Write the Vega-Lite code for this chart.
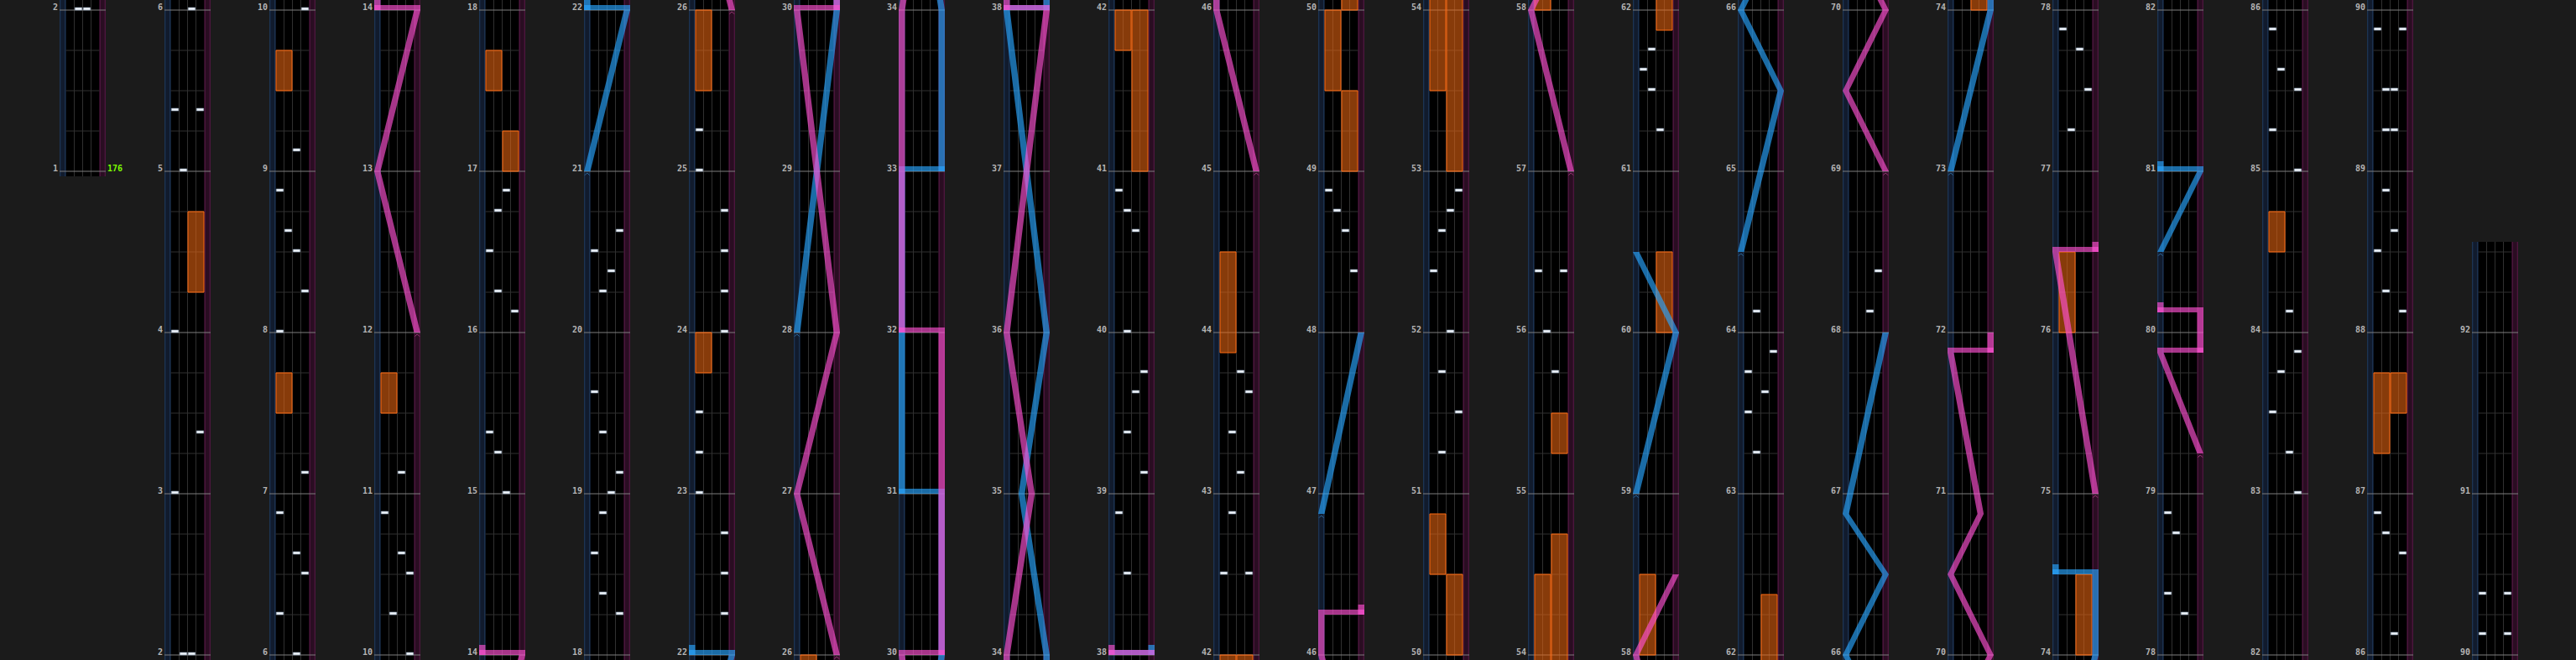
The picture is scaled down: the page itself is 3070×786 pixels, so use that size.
{
"$schema": "https://vega.github.io/schema/vega-lite/v6.json",
"background": "#1b1b1b",
"padding": {"left": 62, "right": 70, "top": 0, "bottom": 0},
"spacing": 70,
"bounds": "flush",
"data": {"values": [
{"k":"bg","y0":-0.03125,"y1":4.0625,"c":[2,3,4,5,6,7,8,9,10,11,12,13,14,15,16,17,18,19,20,21,22,23]},
{"k":"bg","y0":2.96875,"y1":4.0625,"c":[1]},
{"k":"bg","y0":-0.03125,"y1":2.5625,"c":[24]},
{"k":"b","y":0.25,"c":[2,3,4,5,6,7,8,9,10,11,12,13,14,15,16,17,18,19,20,21,22,23,24]},
{"k":"b","y":0.5,"c":[2,3,4,5,6,7,8,9,10,11,12,13,14,15,16,17,18,19,20,21,22,23,24]},
{"k":"b","y":0.75,"c":[2,3,4,5,6,7,8,9,10,11,12,13,14,15,16,17,18,19,20,21,22,23,24]},
{"k":"b","y":1.25,"c":[2,3,4,5,6,7,8,9,10,11,12,13,14,15,16,17,18,19,20,21,22,23,24]},
{"k":"b","y":1.5,"c":[2,3,4,5,6,7,8,9,10,11,12,13,14,15,16,17,18,19,20,21,22,23,24]},
{"k":"b","y":1.75,"c":[2,3,4,5,6,7,8,9,10,11,12,13,14,15,16,17,18,19,20,21,22,23,24]},
{"k":"b","y":2.25,"c":[2,3,4,5,6,7,8,9,10,11,12,13,14,15,16,17,18,19,20,21,22,23,24]},
{"k":"b","y":2.5,"c":[2,3,4,5,6,7,8,9,10,11,12,13,14,15,16,17,18,19,20,21,22,23,24]},
{"k":"b","y":2.75,"c":[2,3,4,5,6,7,8,9,10,11,12,13,14,15,16,17,18,19,20,21,22,23]},
{"k":"b","y":3.25,"c":[1,2,3,4,5,6,7,8,9,10,11,12,13,14,15,16,17,18,19,20,21,22,23]},
{"k":"b","y":3.5,"c":[1,2,3,4,5,6,7,8,9,10,11,12,13,14,15,16,17,18,19,20,21,22,23]},
{"k":"b","y":3.75,"c":[1,2,3,4,5,6,7,8,9,10,11,12,13,14,15,16,17,18,19,20,21,22,23]},
{"k":"m","t":1,"c":[1]},{"k":"m","t":2,"c":[1,2]},{"k":"m","t":3,"c":[2]},{"k":"m","t":4,"c":[2]},{"k":"m","t":5,"c":[2]},{"k":"m","t":6,"c":[2,3]},
{"k":"m","t":7,"c":[3]},{"k":"m","t":8,"c":[3]},{"k":"m","t":9,"c":[3]},{"k":"m","t":10,"c":[3,4]},
{"k":"m","t":11,"c":[4]},{"k":"m","t":12,"c":[4]},{"k":"m","t":13,"c":[4]},{"k":"m","t":14,"c":[4,5]},
{"k":"m","t":15,"c":[5]},{"k":"m","t":16,"c":[5]},{"k":"m","t":17,"c":[5]},{"k":"m","t":18,"c":[5,6]},
{"k":"m","t":19,"c":[6]},{"k":"m","t":20,"c":[6]},{"k":"m","t":21,"c":[6]},{"k":"m","t":22,"c":[6,7]},
{"k":"m","t":23,"c":[7]},{"k":"m","t":24,"c":[7]},{"k":"m","t":25,"c":[7]},{"k":"m","t":26,"c":[7,8]},
{"k":"m","t":27,"c":[8]},{"k":"m","t":28,"c":[8]},{"k":"m","t":29,"c":[8]},{"k":"m","t":30,"c":[8,9]},
{"k":"m","t":31,"c":[9]},{"k":"m","t":32,"c":[9]},{"k":"m","t":33,"c":[9]},{"k":"m","t":34,"c":[9,10]},
{"k":"m","t":35,"c":[10]},{"k":"m","t":36,"c":[10]},{"k":"m","t":37,"c":[10]},{"k":"m","t":38,"c":[10,11]},
{"k":"m","t":39,"c":[11]},{"k":"m","t":40,"c":[11]},{"k":"m","t":41,"c":[11]},{"k":"m","t":42,"c":[11,12]},
{"k":"m","t":43,"c":[12]},{"k":"m","t":44,"c":[12]},{"k":"m","t":45,"c":[12]},{"k":"m","t":46,"c":[12,13]},
{"k":"m","t":47,"c":[13]},{"k":"m","t":48,"c":[13]},{"k":"m","t":49,"c":[13]},{"k":"m","t":50,"c":[13,14]},
{"k":"m","t":51,"c":[14]},{"k":"m","t":52,"c":[14]},{"k":"m","t":53,"c":[14]},{"k":"m","t":54,"c":[14,15]},
{"k":"m","t":55,"c":[15]},{"k":"m","t":56,"c":[15]},{"k":"m","t":57,"c":[15]},{"k":"m","t":58,"c":[15,16]},
{"k":"m","t":59,"c":[16]},{"k":"m","t":60,"c":[16]},{"k":"m","t":61,"c":[16]},{"k":"m","t":62,"c":[16,17]},
{"k":"m","t":63,"c":[17]},{"k":"m","t":64,"c":[17]},{"k":"m","t":65,"c":[17]},{"k":"m","t":66,"c":[17,18]},
{"k":"m","t":67,"c":[18]},{"k":"m","t":68,"c":[18]},{"k":"m","t":69,"c":[18]},{"k":"m","t":70,"c":[18,19]},
{"k":"m","t":71,"c":[19]},{"k":"m","t":72,"c":[19]},{"k":"m","t":73,"c":[19]},{"k":"m","t":74,"c":[19,20]},
{"k":"m","t":75,"c":[20]},{"k":"m","t":76,"c":[20]},{"k":"m","t":77,"c":[20]},{"k":"m","t":78,"c":[20,21]},
{"k":"m","t":79,"c":[21]},{"k":"m","t":80,"c":[21]},{"k":"m","t":81,"c":[21]},{"k":"m","t":82,"c":[21,22]},
{"k":"m","t":83,"c":[22]},{"k":"m","t":84,"c":[22]},{"k":"m","t":85,"c":[22]},{"k":"m","t":86,"c":[22,23]},
{"k":"m","t":87,"c":[23]},{"k":"m","t":88,"c":[23]},{"k":"m","t":89,"c":[23]},{"k":"m","t":90,"c":[23,24]},
{"k":"m","t":91,"c":[24]},{"k":"m","t":92,"c":[24]},
{"k":"bpm","t":1,"c":[1],"txt":"176"},
{"k":"n","t":2,"l":1,"c":[1,2]},{"k":"n","t":2,"l":2,"c":[1,2]},
{"k":"n","t":3,"l":0,"c":[2]},{"k":"n","t":3.375,"l":3,"c":[2]},{"k":"n","t":4,"l":0,"c":[2]},{"k":"n","t":5,"l":1,"c":[2]},
{"k":"n","t":5.375,"l":0,"c":[2]},{"k":"n","t":5.375,"l":3,"c":[2]},{"k":"n","t":6,"l":2,"c":[2,3]},
{"k":"n","t":6.25,"l":0,"c":[3]},{"k":"n","t":6.5,"l":3,"c":[3]},{"k":"n","t":6.625,"l":2,"c":[3]},{"k":"n","t":6.875,"l":0,"c":[3]},
{"k":"n","t":7.125,"l":3,"c":[3]},{"k":"n","t":8,"l":0,"c":[3]},{"k":"n","t":8.25,"l":3,"c":[3]},{"k":"n","t":8.5,"l":2,"c":[3]},
{"k":"n","t":8.625,"l":1,"c":[3]},{"k":"n","t":8.875,"l":0,"c":[3]},{"k":"n","t":9.125,"l":2,"c":[3]},{"k":"n","t":10,"l":3,"c":[3,4]},
{"k":"n","t":10.25,"l":1,"c":[4]},{"k":"n","t":10.5,"l":3,"c":[4]},{"k":"n","t":10.625,"l":2,"c":[4]},{"k":"n","t":10.875,"l":0,"c":[4]},
{"k":"n","t":11.125,"l":2,"c":[4]},
{"k":"n","t":15,"l":2,"c":[5]},{"k":"n","t":15.25,"l":1,"c":[5]},{"k":"n","t":15.375,"l":0,"c":[5]},{"k":"n","t":16.125,"l":3,"c":[5]},
{"k":"n","t":16.25,"l":1,"c":[5]},{"k":"n","t":16.5,"l":0,"c":[5]},{"k":"n","t":16.75,"l":1,"c":[5]},{"k":"n","t":16.875,"l":2,"c":[5]},
{"k":"n","t":18.25,"l":3,"c":[6]},{"k":"n","t":18.375,"l":1,"c":[6]},{"k":"n","t":18.625,"l":0,"c":[6]},{"k":"n","t":18.875,"l":1,"c":[6]},
{"k":"n","t":19,"l":2,"c":[6]},{"k":"n","t":19.125,"l":3,"c":[6]},{"k":"n","t":19.375,"l":1,"c":[6]},{"k":"n","t":19.625,"l":0,"c":[6]},
{"k":"n","t":20.25,"l":1,"c":[6]},{"k":"n","t":20.375,"l":2,"c":[6]},{"k":"n","t":20.5,"l":0,"c":[6]},{"k":"n","t":20.625,"l":3,"c":[6]},
{"k":"n","t":22.25,"l":3,"c":[7]},{"k":"n","t":22.5,"l":3,"c":[7]},{"k":"n","t":22.75,"l":3,"c":[7]},{"k":"n","t":23,"l":0,"c":[7]},
{"k":"n","t":23.25,"l":0,"c":[7]},{"k":"n","t":23.5,"l":0,"c":[7]},{"k":"n","t":24,"l":3,"c":[7]},{"k":"n","t":24.25,"l":3,"c":[7]},
{"k":"n","t":24.5,"l":3,"c":[7]},{"k":"n","t":24.75,"l":3,"c":[7]},{"k":"n","t":25,"l":0,"c":[7]},{"k":"n","t":25.25,"l":0,"c":[7]},
{"k":"n","t":38.5,"l":1,"c":[11]},{"k":"n","t":38.875,"l":0,"c":[11]},{"k":"n","t":39.125,"l":3,"c":[11]},{"k":"n","t":39.375,"l":1,"c":[11]},
{"k":"n","t":39.625,"l":2,"c":[11]},{"k":"n","t":39.75,"l":3,"c":[11]},{"k":"n","t":40,"l":1,"c":[11]},{"k":"n","t":40.625,"l":2,"c":[11]},
{"k":"n","t":40.75,"l":1,"c":[11]},{"k":"n","t":40.875,"l":0,"c":[11]},
{"k":"n","t":42.5,"l":0,"c":[12]},{"k":"n","t":42.5,"l":3,"c":[12]},{"k":"n","t":42.875,"l":1,"c":[12]},{"k":"n","t":43.125,"l":2,"c":[12]},
{"k":"n","t":43.375,"l":1,"c":[12]},{"k":"n","t":43.625,"l":3,"c":[12]},{"k":"n","t":43.75,"l":2,"c":[12]},
{"k":"n","t":48.375,"l":3,"c":[13]},{"k":"n","t":48.625,"l":2,"c":[13]},{"k":"n","t":48.75,"l":1,"c":[13]},{"k":"n","t":48.875,"l":0,"c":[13]},
{"k":"n","t":51.25,"l":1,"c":[14]},{"k":"n","t":51.5,"l":3,"c":[14]},{"k":"n","t":51.75,"l":1,"c":[14]},{"k":"n","t":52,"l":2,"c":[14]},
{"k":"n","t":52.375,"l":0,"c":[14]},{"k":"n","t":52.625,"l":1,"c":[14]},{"k":"n","t":52.75,"l":2,"c":[14]},{"k":"n","t":52.875,"l":3,"c":[14]},
{"k":"n","t":55.75,"l":2,"c":[15]},{"k":"n","t":56,"l":1,"c":[15]},{"k":"n","t":56.375,"l":0,"c":[15]},{"k":"n","t":56.375,"l":3,"c":[15]},
{"k":"n","t":61.25,"l":2,"c":[16]},{"k":"n","t":61.5,"l":1,"c":[16]},{"k":"n","t":61.625,"l":0,"c":[16]},{"k":"n","t":61.75,"l":1,"c":[16]},
{"k":"n","t":63.25,"l":1,"c":[17]},{"k":"n","t":63.5,"l":0,"c":[17]},{"k":"n","t":63.625,"l":2,"c":[17]},{"k":"n","t":63.75,"l":0,"c":[17]},
{"k":"n","t":63.875,"l":3,"c":[17]},{"k":"n","t":64.125,"l":1,"c":[17]},
{"k":"n","t":68.125,"l":2,"c":[18]},{"k":"n","t":68.375,"l":3,"c":[18]},
{"k":"n","t":77.25,"l":1,"c":[20]},{"k":"n","t":77.5,"l":3,"c":[20]},{"k":"n","t":77.75,"l":2,"c":[20]},{"k":"n","t":77.875,"l":0,"c":[20]},
{"k":"n","t":78.25,"l":2,"c":[21]},{"k":"n","t":78.375,"l":0,"c":[21]},{"k":"n","t":78.75,"l":1,"c":[21]},{"k":"n","t":78.875,"l":0,"c":[21]},
{"k":"n","t":83,"l":3,"c":[22]},{"k":"n","t":83.25,"l":2,"c":[22]},{"k":"n","t":83.5,"l":0,"c":[22]},{"k":"n","t":83.75,"l":1,"c":[22]},
{"k":"n","t":83.875,"l":3,"c":[22]},{"k":"n","t":84.125,"l":2,"c":[22]},{"k":"n","t":85,"l":3,"c":[22]},{"k":"n","t":85.25,"l":0,"c":[22]},
{"k":"n","t":85.5,"l":3,"c":[22]},{"k":"n","t":85.625,"l":1,"c":[22]},{"k":"n","t":85.875,"l":0,"c":[22]},
{"k":"n","t":86.125,"l":2,"c":[23]},{"k":"n","t":86.625,"l":3,"c":[23]},{"k":"n","t":86.75,"l":1,"c":[23]},{"k":"n","t":86.875,"l":0,"c":[23]},
{"k":"n","t":88.125,"l":3,"c":[23]},{"k":"n","t":88.25,"l":1,"c":[23]},{"k":"n","t":88.5,"l":0,"c":[23]},{"k":"n","t":88.625,"l":2,"c":[23]},
{"k":"n","t":88.875,"l":1,"c":[23]},{"k":"n","t":89.25,"l":1,"c":[23]},{"k":"n","t":89.25,"l":2,"c":[23]},{"k":"n","t":89.5,"l":1,"c":[23]},
{"k":"n","t":89.5,"l":2,"c":[23]},{"k":"n","t":89.875,"l":0,"c":[23]},{"k":"n","t":89.875,"l":3,"c":[23]},
{"k":"n","t":90.125,"l":0,"c":[24]},{"k":"n","t":90.125,"l":3,"c":[24]},{"k":"n","t":90.375,"l":0,"c":[24]},{"k":"n","t":90.375,"l":3,"c":[24]},
{"k":"f","t0":4.25,"t1":4.75,"l":2,"c":[2]},{"k":"f","t0":7.5,"t1":7.75,"l":0,"c":[3]},{"k":"f","t0":9.5,"t1":9.75,"l":0,"c":[3]},
{"k":"f","t0":11.5,"t1":11.75,"l":0,"c":[4]},{"k":"f","t0":17,"t1":17.25,"l":2,"c":[5]},{"k":"f","t0":17.5,"t1":17.75,"l":0,"c":[5]},
{"k":"f","t0":23.75,"t1":24,"l":0,"c":[7]},{"k":"f","t0":25.5,"t1":26,"l":0,"c":[7,8]},{"k":"f","t0":41,"t1":42,"l":2,"c":[11,12]},
{"k":"f","t0":41.75,"t1":42,"l":0,"c":[11,12]},{"k":"f","t0":43.875,"t1":44.5,"l":0,"c":[12]},{"k":"f","t0":49,"t1":49.5,"l":2,"c":[13]},
{"k":"f","t0":49.5,"t1":50,"l":0,"c":[13]},{"k":"f","t0":50,"t1":50.5,"l":2,"c":[13,14]},
{"k":"f","t0":50.5,"t1":50.875,"l":0,"c":[14]},{"k":"f","t0":53,"t1":54.75,"l":2,"c":[14,15]},{"k":"f","t0":53.5,"t1":54.5,"l":0,"c":[14,15]},
{"k":"f","t0":55.25,"t1":55.5,"l":2,"c":[15]},{"k":"f","t0":58,"t1":58.5,"l":0,"c":[15,16]},{"k":"f","t0":60,"t1":60.5,"l":2,"c":[16]},
{"k":"f","t0":61.875,"t1":62.375,"l":2,"c":[16,17]},{"k":"f","t0":74,"t1":74.5,"l":2,"c":[19,20]},{"k":"f","t0":76,"t1":76.5,"l":0,"c":[20]},
{"k":"f","t0":84.5,"t1":84.75,"l":0,"c":[22]},{"k":"f","t0":87.25,"t1":87.75,"l":0,"c":[23]},{"k":"f","t0":87.5,"t1":87.75,"l":2,"c":[23]},
{"k":"L","s":"p1","side":"R","t":12,"p":1,"c":[4,5]},{"k":"L","s":"p1","side":"R","t":13,"p":0,"c":[4,5]},{"k":"L","s":"p1","side":"R","t":14,"p":1,"c":[4,5]},
{"k":"L","s":"p1t","side":"R","t":14,"p":0,"c":[4,5]},{"k":"L","s":"p1t","side":"R","t":14.0625,"p":0,"c":[4,5]},
{"k":"S","side":"R","t":14,"a":1,"b":0,"c":[4,5]},
{"k":"L","s":"b1","side":"L","t":21,"p":0,"c":[6,7]},{"k":"L","s":"b1","side":"L","t":22,"p":1,"c":[6,7]},
{"k":"L","s":"b1t","side":"L","t":22,"p":0,"c":[6,7]},{"k":"L","s":"b1t","side":"L","t":22.0625,"p":0,"c":[6,7]},
{"k":"S","side":"L","t":22,"a":1,"b":0,"c":[6,7]},
{"k":"L","s":"p2","side":"R","t":26,"p":1,"c":[7,8,9]},{"k":"L","s":"p2","side":"R","t":27,"p":0,"c":[7,8,9]},{"k":"L","s":"p2","side":"R","t":28,"p":1,"c":[7,8,9]},{"k":"L","s":"p2","side":"R","t":30,"p":0,"c":[7,8,9]},
{"k":"S","side":"R","t":30,"a":0,"b":1,"c":[8,9]},
{"k":"L","s":"p3","side":"R","t":30,"p":1,"c":[8,9]},{"k":"L","s":"p3","side":"R","t":32,"p":1,"c":[8,9]},
{"k":"S","side":"R","t":32,"a":1,"b":0,"c":[9]},
{"k":"L","s":"p4","side":"R","t":32,"p":0,"c":[9,10]},{"k":"L","s":"p4","side":"R","t":34,"p":0,"c":[9,10]},{"k":"L","s":"p4","side":"R","t":35,"p":0.625,"c":[9,10]},{"k":"L","s":"p4","side":"R","t":36,"p":0,"c":[9,10]},{"k":"L","s":"p4","side":"R","t":38,"p":1,"c":[9,10,11]},
{"k":"S","side":"R","t":38,"a":1,"b":0,"c":[10,11]},
{"k":"L","s":"p4t","side":"R","t":38,"p":0,"c":[10,11]},{"k":"L","s":"p4t","side":"R","t":38.0625,"p":0,"c":[10,11]},
{"k":"L","s":"b2","side":"L","t":28,"p":0,"c":[8,9]},{"k":"L","s":"b2","side":"L","t":30,"p":1,"c":[8,9]},{"k":"L","s":"b2","side":"L","t":31,"p":1,"c":[8,9]},
{"k":"S","side":"L","t":31,"a":1,"b":0,"c":[9]},
{"k":"L","s":"b3","side":"L","t":31,"p":0,"c":[9]},{"k":"L","s":"b3","side":"L","t":33,"p":0,"c":[9]},
{"k":"S","side":"L","t":33,"a":0,"b":1,"c":[9]},
{"k":"L","s":"b4","side":"L","t":33,"p":1,"c":[9,10]},{"k":"L","s":"b4","side":"L","t":34,"p":1,"c":[9,10]},{"k":"L","s":"b4","side":"L","t":35,"p":0.375,"c":[9,10]},{"k":"L","s":"b4","side":"L","t":36,"p":1,"c":[9,10]},{"k":"L","s":"b4","side":"L","t":38,"p":0,"c":[9,10,11]},
{"k":"S","side":"L","t":38,"a":0,"b":1,"c":[10,11]},
{"k":"L","s":"b4t","side":"L","t":38,"p":1,"c":[10,11]},{"k":"L","s":"b4t","side":"L","t":38.0625,"p":1,"c":[10,11]},
{"k":"L","s":"p5","side":"R","t":45,"p":1,"c":[12,13]},{"k":"L","s":"p5","side":"R","t":46,"p":0,"c":[12,13]},{"k":"L","s":"p5","side":"R","t":46.25,"p":0,"c":[12,13]},
{"k":"S","side":"R","t":46.25,"a":0,"b":1,"c":[13]},
{"k":"L","s":"p5t","side":"R","t":46.25,"p":1,"c":[13]},{"k":"L","s":"p5t","side":"R","t":46.3125,"p":1,"c":[13]},
{"k":"L","s":"b5","side":"L","t":46.875,"p":0,"c":[13]},{"k":"L","s":"b5","side":"L","t":48,"p":1,"c":[13]},
{"k":"L","s":"p6","side":"R","t":57,"p":1,"c":[15,16]},{"k":"L","s":"p6","side":"R","t":58,"p":0,"c":[15,16]},{"k":"L","s":"p6","side":"R","t":58.5,"p":1,"c":[15,16]},
{"k":"L","s":"b6","side":"L","t":59,"p":0,"c":[16]},{"k":"L","s":"b6","side":"L","t":60,"p":1,"c":[16]},{"k":"L","s":"b6","side":"L","t":60.5,"p":0,"c":[16]},
{"k":"L","s":"b7","side":"L","t":64.5,"p":0,"c":[17,18]},{"k":"L","s":"b7","side":"L","t":65.5,"p":1,"c":[17,18]},{"k":"L","s":"b7","side":"L","t":66,"p":0,"c":[17,18]},
{"k":"L","s":"b7","side":"L","t":66.5,"p":1,"c":[17,18]},{"k":"L","s":"b7","side":"L","t":66.875,"p":0,"c":[17,18]},{"k":"L","s":"b7","side":"L","t":68,"p":1,"c":[17,18]},
{"k":"L","s":"p7","side":"R","t":69,"p":1,"c":[18,19]},{"k":"L","s":"p7","side":"R","t":69.5,"p":0,"c":[18,19]},{"k":"L","s":"p7","side":"R","t":70,"p":1,"c":[18,19]},
{"k":"L","s":"p7","side":"R","t":70.5,"p":0,"c":[18,19]},{"k":"L","s":"p7","side":"R","t":70.875,"p":0.75,"c":[18,19]},{"k":"L","s":"p7","side":"R","t":71.875,"p":0,"c":[18,19]},
{"k":"S","side":"R","t":71.875,"a":0,"b":1,"c":[19]},
{"k":"L","s":"p7t","side":"R","t":71.875,"p":1,"c":[19]},{"k":"L","s":"p7t","side":"R","t":72,"p":1,"c":[19]},
{"k":"L","s":"b8","side":"L","t":73,"p":0,"c":[19,20]},{"k":"L","s":"b8","side":"L","t":74,"p":1,"c":[19,20]},{"k":"L","s":"b8","side":"L","t":74.5,"p":1,"c":[19,20]},
{"k":"S","side":"L","t":74.5,"a":1,"b":0,"c":[20]},
{"k":"L","s":"b8t","side":"L","t":74.5,"p":0,"c":[20]},{"k":"L","s":"b8t","side":"L","t":74.5625,"p":0,"c":[20]},
{"k":"L","s":"p8","side":"R","t":75,"p":1,"c":[20]},{"k":"L","s":"p8","side":"R","t":76.5,"p":0,"c":[20]},
{"k":"S","side":"R","t":76.5,"a":0,"b":1,"c":[20]},
{"k":"L","s":"p8t","side":"R","t":76.5,"p":1,"c":[20]},{"k":"L","s":"p8t","side":"R","t":76.5625,"p":1,"c":[20]},
{"k":"L","s":"p9","side":"R","t":79.25,"p":1,"c":[21]},{"k":"L","s":"p9","side":"R","t":79.875,"p":0,"c":[21]},
{"k":"S","side":"R","t":79.875,"a":0,"b":1,"c":[21]},
{"k":"L","s":"p9b","side":"R","t":79.875,"p":1,"c":[21]},{"k":"L","s":"p9b","side":"R","t":80.125,"p":1,"c":[21]},
{"k":"S","side":"R","t":80.125,"a":1,"b":0,"c":[21]},
{"k":"L","s":"p9t","side":"R","t":80.125,"p":0,"c":[21]},{"k":"L","s":"p9t","side":"R","t":80.1875,"p":0,"c":[21]},
{"k":"L","s":"b9","side":"L","t":80.5,"p":0,"c":[21]},{"k":"L","s":"b9","side":"L","t":81,"p":1,"c":[21]},
{"k":"S","side":"L","t":81,"a":1,"b":0,"c":[21]},
{"k":"L","s":"b9t","side":"L","t":81,"p":0,"c":[21]},{"k":"L","s":"b9t","side":"L","t":81.0625,"p":0,"c":[21]},
{"k":"st","side":"R","t":12,"p":1,"c":[4]},{"k":"st","side":"L","t":21,"p":0,"c":[6]},{"k":"st","side":"R","t":26,"p":1,"c":[7,8]},
{"k":"st","side":"L","t":28,"p":0,"c":[8]},{"k":"st","side":"R","t":45,"p":1,"c":[12]},{"k":"st","side":"L","t":46.875,"p":0,"c":[13]},
{"k":"st","side":"R","t":57,"p":1,"c":[15]},{"k":"st","side":"L","t":59,"p":0,"c":[16]},{"k":"st","side":"L","t":64.5,"p":0,"c":[17]},
{"k":"st","side":"R","t":69,"p":1,"c":[18]},{"k":"st","side":"L","t":73,"p":0,"c":[19]},{"k":"st","side":"R","t":75,"p":1,"c":[20]},
{"k":"st","side":"R","t":79.25,"p":1,"c":[21]},{"k":"st","side":"L","t":80.5,"p":0,"c":[21]}
]},
"transform": [{"flatten": ["c"]}],
"facet": {"column": {"field": "c", "type": "ordinal", "header": null}},
"spec": {
"width": 55,
"height": 786,
"layer": [
{"transform": [{"filter": "datum.k === 'bg'"}],
 "mark": {"type": "rect", "fill": "#000000"},
 "encoding": {
  "x": {"datum": -0.75, "type": "quantitative", "scale": {"domain": [-0.75, 4.75], "nice": false, "zero": false}, "axis": null},
  "x2": {"datum": 4.75},
  "y": {"field": "y0", "type": "quantitative", "scale": {"domain": [-0.03125, 4.0625], "nice": false, "zero": false}, "axis": null},
  "y2": {"field": "y1"}}},
{"transform": [{"filter": "datum.k === 'bg'"}],
 "mark": {"type": "rect", "fill": "#111b2d"},
 "encoding": {"x": {"datum": -0.75, "type": "quantitative"}, "x2": {"datum": 0}, "y": {"field": "y0", "type": "quantitative"}, "y2": {"field": "y1"}}},
{"transform": [{"filter": "datum.k === 'bg'"}],
 "mark": {"type": "rect", "fill": "#2a0d22"},
 "encoding": {"x": {"datum": 4, "type": "quantitative"}, "x2": {"datum": 4.75}, "y": {"field": "y0", "type": "quantitative"}, "y2": {"field": "y1"}}},
{"transform": [{"filter": "datum.k === 'bg'"}],
 "mark": {"type": "rect", "fill": "#1f3858", "xOffset": -0.6, "x2Offset": 0.6},
 "encoding": {"x": {"datum": -0.68, "type": "quantitative"}, "x2": {"datum": -0.68}, "y": {"field": "y0", "type": "quantitative"}, "y2": {"field": "y1"}}},
{"transform": [{"filter": "datum.k === 'bg'"}],
 "mark": {"type": "rect", "fill": "#1f3858", "xOffset": -0.6, "x2Offset": 0.6},
 "encoding": {"x": {"datum": -0.07, "type": "quantitative"}, "x2": {"datum": -0.07}, "y": {"field": "y0", "type": "quantitative"}, "y2": {"field": "y1"}}},
{"transform": [{"filter": "datum.k === 'bg'"}],
 "mark": {"type": "rect", "fill": "#521842", "xOffset": -0.6, "x2Offset": 0.6},
 "encoding": {"x": {"datum": 4.07, "type": "quantitative"}, "x2": {"datum": 4.07}, "y": {"field": "y0", "type": "quantitative"}, "y2": {"field": "y1"}}},
{"transform": [{"filter": "datum.k === 'bg'"}],
 "mark": {"type": "rect", "fill": "#521842", "xOffset": -0.6, "x2Offset": 0.6},
 "encoding": {"x": {"datum": 4.68, "type": "quantitative"}, "x2": {"datum": 4.68}, "y": {"field": "y0", "type": "quantitative"}, "y2": {"field": "y1"}}},
{"transform": [{"filter": "datum.k === 'bg'"}],
 "mark": {"type": "rect", "fill": "#303030", "xOffset": -0.5, "x2Offset": 0.5},
 "encoding": {"x": {"datum": 1, "type": "quantitative"}, "x2": {"datum": 1}, "y": {"field": "y0", "type": "quantitative"}, "y2": {"field": "y1"}}},
{"transform": [{"filter": "datum.k === 'bg'"}],
 "mark": {"type": "rect", "fill": "#303030", "xOffset": -0.5, "x2Offset": 0.5},
 "encoding": {"x": {"datum": 2, "type": "quantitative"}, "x2": {"datum": 2}, "y": {"field": "y0", "type": "quantitative"}, "y2": {"field": "y1"}}},
{"transform": [{"filter": "datum.k === 'bg'"}],
 "mark": {"type": "rect", "fill": "#303030", "xOffset": -0.5, "x2Offset": 0.5},
 "encoding": {"x": {"datum": 3, "type": "quantitative"}, "x2": {"datum": 3}, "y": {"field": "y0", "type": "quantitative"}, "y2": {"field": "y1"}}},
{"transform": [{"filter": "datum.k === 'b'"}],
 "mark": {"type": "rect", "fill": "#303030", "yOffset": 0.5, "y2Offset": -0.5},
 "encoding": {"x": {"datum": 0, "type": "quantitative"}, "x2": {"datum": 4}, "y": {"field": "y", "type": "quantitative"}, "y2": {"field": "y"}}},
{"transform": [{"filter": "datum.k === 'm'"}, {"calculate": "datum.t - 4 * datum.c + 6", "as": "y"}],
 "mark": {"type": "rect", "fill": "#7e7e7e", "yOffset": 0.5, "y2Offset": -0.5},
 "encoding": {"x": {"datum": -0.75, "type": "quantitative"}, "x2": {"datum": 4.75}, "y": {"field": "y", "type": "quantitative"}, "y2": {"field": "y"}}},
{"transform": [{"filter": "datum.k === 'm'"}, {"calculate": "datum.t - 4 * datum.c + 6", "as": "y"}],
 "mark": {"type": "text", "font": "DejaVu Sans Mono", "fontWeight": "bold", "fontSize": 10, "color": "#b4b4b4", "align": "right", "baseline": "alphabetic", "dx": -2},
 "encoding": {"x": {"datum": -0.75, "type": "quantitative"}, "y": {"field": "y", "type": "quantitative"}, "text": {"field": "t", "type": "quantitative", "format": "d"}}},
{"transform": [{"filter": "datum.k === 'f'"}, {"calculate": "datum.t0 - 4 * datum.c + 6", "as": "ya"}, {"calculate": "datum.t1 - 4 * datum.c + 6", "as": "yb"}, {"calculate": "datum.l + 2", "as": "l2"}],
 "mark": {"type": "rect", "fill": "#e86512", "fillOpacity": 0.58, "stroke": "#ff6a10", "strokeWidth": 1, "clip": true, "xOffset": 0.5, "x2Offset": -0.5},
 "encoding": {"x": {"field": "l", "type": "quantitative"}, "x2": {"field": "l2"}, "y": {"field": "ya", "type": "quantitative"}, "y2": {"field": "yb"}}},
{"transform": [{"filter": "datum.k === 'L' && datum.side === 'L'"}, {"calculate": "datum.t - 4 * datum.c + 6", "as": "y"}, {"calculate": "datum.p * 4.75 - 0.75", "as": "xl"}, {"calculate": "datum.p * 4.75", "as": "xr"}],
 "mark": {"type": "area", "orient": "horizontal", "clip": true, "color": "#2aa6ff", "opacity": 0.65},
 "encoding": {"y": {"field": "y", "type": "quantitative"}, "x": {"field": "xl", "type": "quantitative", "stack": null}, "x2": {"field": "xr"}, "detail": {"field": "s"}}},
{"transform": [{"filter": "datum.k === 'S' && datum.side === 'L'"}, {"calculate": "datum.t - 4 * datum.c + 6", "as": "y"}, {"calculate": "min(datum.a, datum.b) * 4.75 - 0.75", "as": "xa"}, {"calculate": "max(datum.a, datum.b) * 4.75", "as": "xb"}],
 "mark": {"type": "rect", "clip": true, "color": "#2aa6ff", "opacity": 0.65, "y2Offset": -6},
 "encoding": {"x": {"field": "xa", "type": "quantitative"}, "x2": {"field": "xb"}, "y": {"field": "y", "type": "quantitative"}, "y2": {"field": "y"}}},
{"transform": [{"filter": "datum.k === 'L' && datum.side === 'R'"}, {"calculate": "datum.t - 4 * datum.c + 6", "as": "y"}, {"calculate": "datum.p * 4.75 - 0.75", "as": "xl"}, {"calculate": "datum.p * 4.75", "as": "xr"}],
 "mark": {"type": "area", "orient": "horizontal", "clip": true, "color": "#ff52d2", "opacity": 0.65},
 "encoding": {"y": {"field": "y", "type": "quantitative"}, "x": {"field": "xl", "type": "quantitative", "stack": null}, "x2": {"field": "xr"}, "detail": {"field": "s"}}},
{"transform": [{"filter": "datum.k === 'S' && datum.side === 'R'"}, {"calculate": "datum.t - 4 * datum.c + 6", "as": "y"}, {"calculate": "min(datum.a, datum.b) * 4.75 - 0.75", "as": "xa"}, {"calculate": "max(datum.a, datum.b) * 4.75", "as": "xb"}],
 "mark": {"type": "rect", "clip": true, "color": "#ff52d2", "opacity": 0.65, "y2Offset": -6},
 "encoding": {"x": {"field": "xa", "type": "quantitative"}, "x2": {"field": "xb"}, "y": {"field": "y", "type": "quantitative"}, "y2": {"field": "y"}}},
{"transform": [{"filter": "datum.k === 'st'"}, {"calculate": "datum.t - 4 * datum.c + 6", "as": "y"}, {"calculate": "datum.p * 4.75 - 0.375", "as": "xc"}],
 "mark": {"type": "point", "shape": "M-1,0.6L0,-0.4L1,0.6", "filled": false, "size": 30, "strokeWidth": 1, "yOffset": 3, "clip": true},
 "encoding": {"x": {"field": "xc", "type": "quantitative"}, "y": {"field": "y", "type": "quantitative"},
  "color": {"field": "side", "type": "nominal", "scale": {"domain": ["L", "R"], "range": ["#3c8fd0", "#d0509f"]}, "legend": null}}},
{"transform": [{"filter": "datum.k === 'n'"}, {"calculate": "datum.t - 4 * datum.c + 6", "as": "y"}, {"calculate": "datum.l + 1", "as": "l2"}],
 "mark": {"type": "rect", "fill": "#eef2f7", "stroke": "#8ea3b8", "strokeWidth": 0.6, "clip": true, "xOffset": 0.8, "x2Offset": -0.8, "y2Offset": -3},
 "encoding": {"x": {"field": "l", "type": "quantitative"}, "x2": {"field": "l2"}, "y": {"field": "y", "type": "quantitative"}, "y2": {"field": "y"}}},
{"transform": [{"filter": "datum.k === 'bpm'"}, {"calculate": "datum.t - 4 * datum.c + 6", "as": "y"}],
 "mark": {"type": "text", "font": "DejaVu Sans Mono", "fontWeight": "bold", "fontSize": 10, "color": "#7cfc00", "align": "left", "baseline": "alphabetic", "dx": 2},
 "encoding": {"x": {"datum": 4.75, "type": "quantitative"}, "y": {"field": "y", "type": "quantitative"}, "text": {"field": "txt", "type": "nominal"}}}
]
},
"config": {"view": {"stroke": null, "fill": null}, "axis": {"disable": true}, "legend": {"disable": true}}
}
